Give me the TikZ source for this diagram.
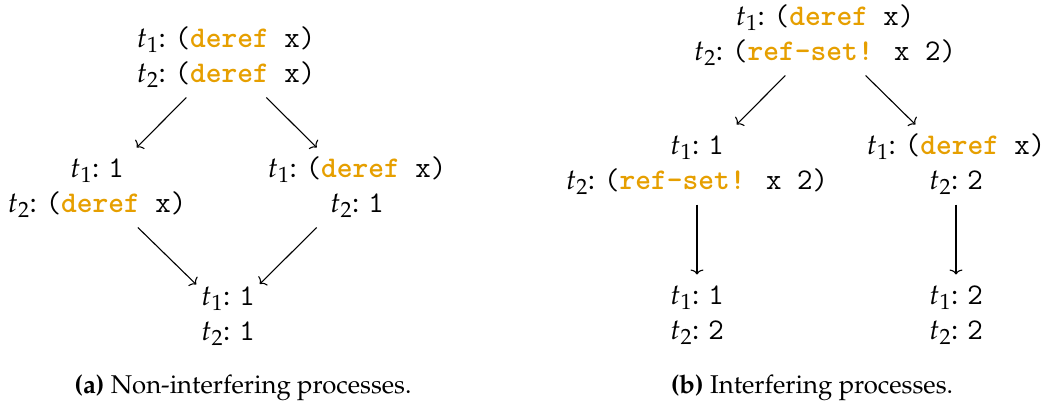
\documentclass[tikz,border=0pt]{standalone}
\usepackage[T1,TU]{fontenc}
\usepackage{mathpazo}
\usetikzlibrary{arrows.meta}
\definecolor{orng}{RGB}{230,159,0}
\newcommand\pal{\fontencoding{T1}\fontfamily{ppl}\selectfont}
\newcommand\mono[1]{{\fontencoding{TU}\fontfamily{lmtt}\fontsize{30}{35}\selectfont #1}}
\newcommand\kw[1]{\textbf{\textcolor{orng}{#1}}}
\newcommand\lnst{\rule[-10.5pt]{0pt}{35pt}}
\newcommand\tline[2]{\lnst$t_{#1}${:} \mono{#2}}
\tikzset{
  st/.style={align=center, inner sep=5pt, outer sep=0pt,
    font=\pal\fontsize{29}{35}\selectfont},
  arr/.style={-{To[length=5pt,width=13pt]}, line width=1.1pt},
  captext/.style={anchor=base, inner sep=0pt, font=\pal\fontsize{25.7}{30}\selectfont}
}
\begin{document}
\begin{tikzpicture}[x=1pt,y=-1pt]
\path[use as bounding box] (0,0) rectangle (1052,405);
% panel (a)
\node[st] (a1) at (226,57.5) {\tline{1}{(\kw{deref} x)}\\ \tline{2}{(\kw{deref} x)}};
\node[st] (a2) at (97,187.5) {\tline{1}{1}\\ \tline{2}{(\kw{deref} x)}};
\node[st] (a3) at (357,187.5) {\tline{1}{(\kw{deref} x)}\\ \tline{2}{1}};
\node[st] (a4) at (228,315.5) {\tline{1}{1}\\ \tline{2}{1}};
\draw[arr] (a1) -- (a2);
\draw[arr] (a1) -- (a3);
\draw[arr] (a2) -- (a4);
\draw[arr] (a3) -- (a4);
% panel (b)
\node[st] (b1) at (825,35.5) {\tline{1}{(\kw{deref} x)}\\ \tline{2}{(\kw{ref-set!} x 2)}};
\node[st] (b2) at (697,164.5) {\tline{1}{1}\\ \tline{2}{(\kw{ref-set!} x 2)}};
\node[st] (b3) at (956,164.5) {\tline{1}{(\kw{deref} x)}\\ \tline{2}{2}};
\node[st] (b4) at (697,314.5) {\tline{1}{1}\\ \tline{2}{2}};
\node[st] (b5) at (956,314.5) {\tline{1}{2}\\ \tline{2}{2}};
\draw[arr] (b1) -- (b2);
\draw[arr] (b1) -- (b3);
\draw[arr] (b2) -- (b4);
\draw[arr] (b3) -- (b5);
% captions
\node[captext] (ca) at (243,393) {\textbf{(a)} Non-interfering processes.};
\node[captext] (cb) at (812,393) {\textbf{(b)} Interfering processes.};
\end{tikzpicture}
\end{document}
